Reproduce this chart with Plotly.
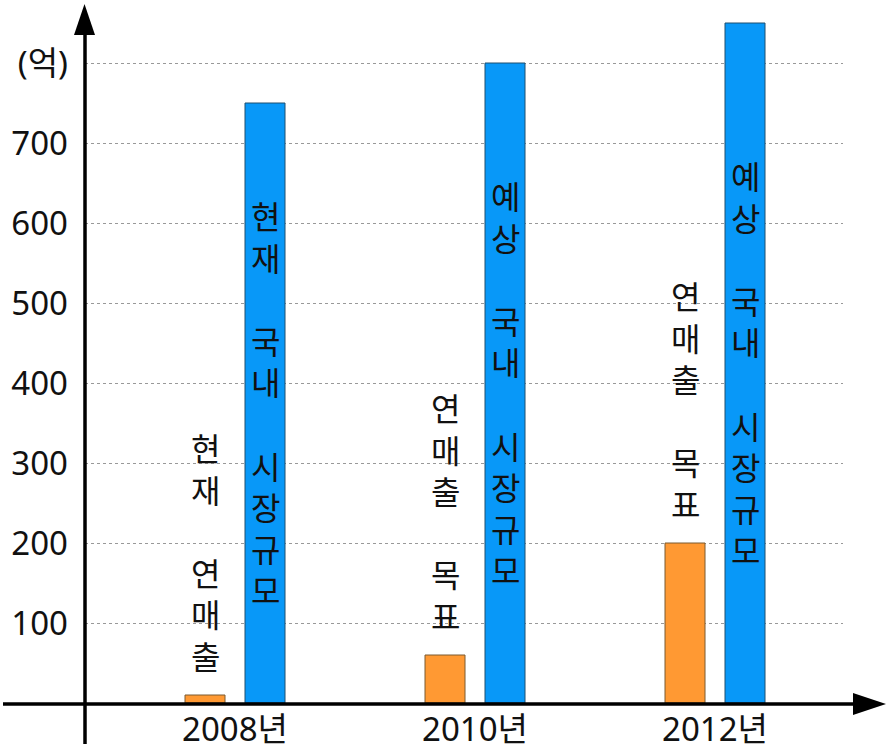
import plotly.graph_objects as go

# ---- data ----
years = ["2008년", "2010년", "2012년"]
sales = [10, 60, 200]            # 연매출 (억)
market = [750, 800, 850]         # 국내 시장규모 (억)
sales_labels = ["현재 연매출", "연매출 목표", "연매출 목표"]
market_labels = ["현재 국내 시장규모", "예상 국내 시장규모", "예상 국내 시장규모"]
y_tickvals = [100, 200, 300, 400, 500, 600, 700, 800]
y_ticktext = ["100", "200", "300", "400", "500", "600", "700", "(억)"]

FONT = "Noto Sans, Noto Sans CJK KR, sans-serif"
ORANGE = "#FF9933"
BLUE = "#0898F8"

xpos = list(range(len(years)))


def stack(s):
    return "<br>".join("" if c == " " else c for c in s)


fig = go.Figure()
fig.add_trace(go.Bar(x=xpos, y=sales, marker=dict(color=ORANGE, line=dict(color="#7a5a30", width=1)),
                     showlegend=False, hoverinfo="skip"))
fig.add_trace(go.Bar(x=xpos, y=market, marker=dict(color=BLUE, line=dict(color="#1f4f6f", width=1)),
                     showlegend=False, hoverinfo="skip"))

annotations = []
for i in xpos:
    annotations.append(dict(x=i - 0.125, y=sales[i], xref="x", yref="y", text=stack(sales_labels[i]),
                            showarrow=False, yanchor="middle", xanchor="center", yshift=143,
                            font=dict(family=FONT, size=32, color="#111")))
    annotations.append(dict(x=i + 0.125, y=market[i] / 2, xref="x", yref="y", text=stack(market_labels[i]),
                            showarrow=False, yanchor="middle", xanchor="center",
                            font=dict(family=FONT, size=32, color="#111")))

# plot area in pixels: x 85..843, y 5..703
W, H = 890, 750
L, R, T, B = 85, 47, 5, 47
pw, ph = W - L - R, H - T - B


def px(xp):
    return (xp - L) / pw


def py(yp):
    return (H - B - yp) / ph


shapes = [
    # y axis line
    dict(type="line", xref="paper", yref="paper", x0=0, x1=0, y0=py(744), y1=py(30),
         line=dict(color="black", width=3.5)),
    # y arrow head
    dict(type="path", xref="paper", yref="paper",
         path=f"M {px(84.5)} {py(4)} L {px(74)} {py(35)} L {px(95)} {py(35)} Z",
         fillcolor="black", line=dict(color="black", width=0)),
    # x axis line
    dict(type="line", xref="paper", yref="paper", x0=px(3), x1=px(858), y0=py(704), y1=py(704),
         line=dict(color="black", width=3.5)),
    # x arrow head
    dict(type="path", xref="paper", yref="paper",
         path=f"M {px(886)} {py(704)} L {px(853)} {py(693)} L {px(853)} {py(715)} Z",
         fillcolor="black", line=dict(color="black", width=0)),
]

fig.update_layout(
    width=W, height=H,
    margin=dict(l=L, r=R, t=T, b=B, autoexpand=False),
    paper_bgcolor="white", plot_bgcolor="white",
    barmode="group", bargap=0.5, bargroupgap=1 / 3,
    font=dict(family=FONT, size=33, color="#111"),
    annotations=annotations,
    shapes=shapes,
)
fig.update_xaxes(range=[-0.625, (843 - 235) / 240], tickvals=xpos, ticktext=years,
                 showgrid=False, zeroline=False, showline=False, ticks="", automargin=False,
                 ticklabelstandoff=4, tickfont=dict(family=FONT, size=33, color="#111"))
fig.update_yaxes(range=[0, 698 / 0.8], tickvals=y_tickvals, ticktext=y_ticktext,
                 showgrid=True, gridcolor="#999999", gridwidth=1, griddash="dot",
                 zeroline=False, showline=False, ticks="", automargin=False,
                 ticklabelstandoff=16, tickfont=dict(family=FONT, size=33, color="#111"))

fig.write_html("out.html")
